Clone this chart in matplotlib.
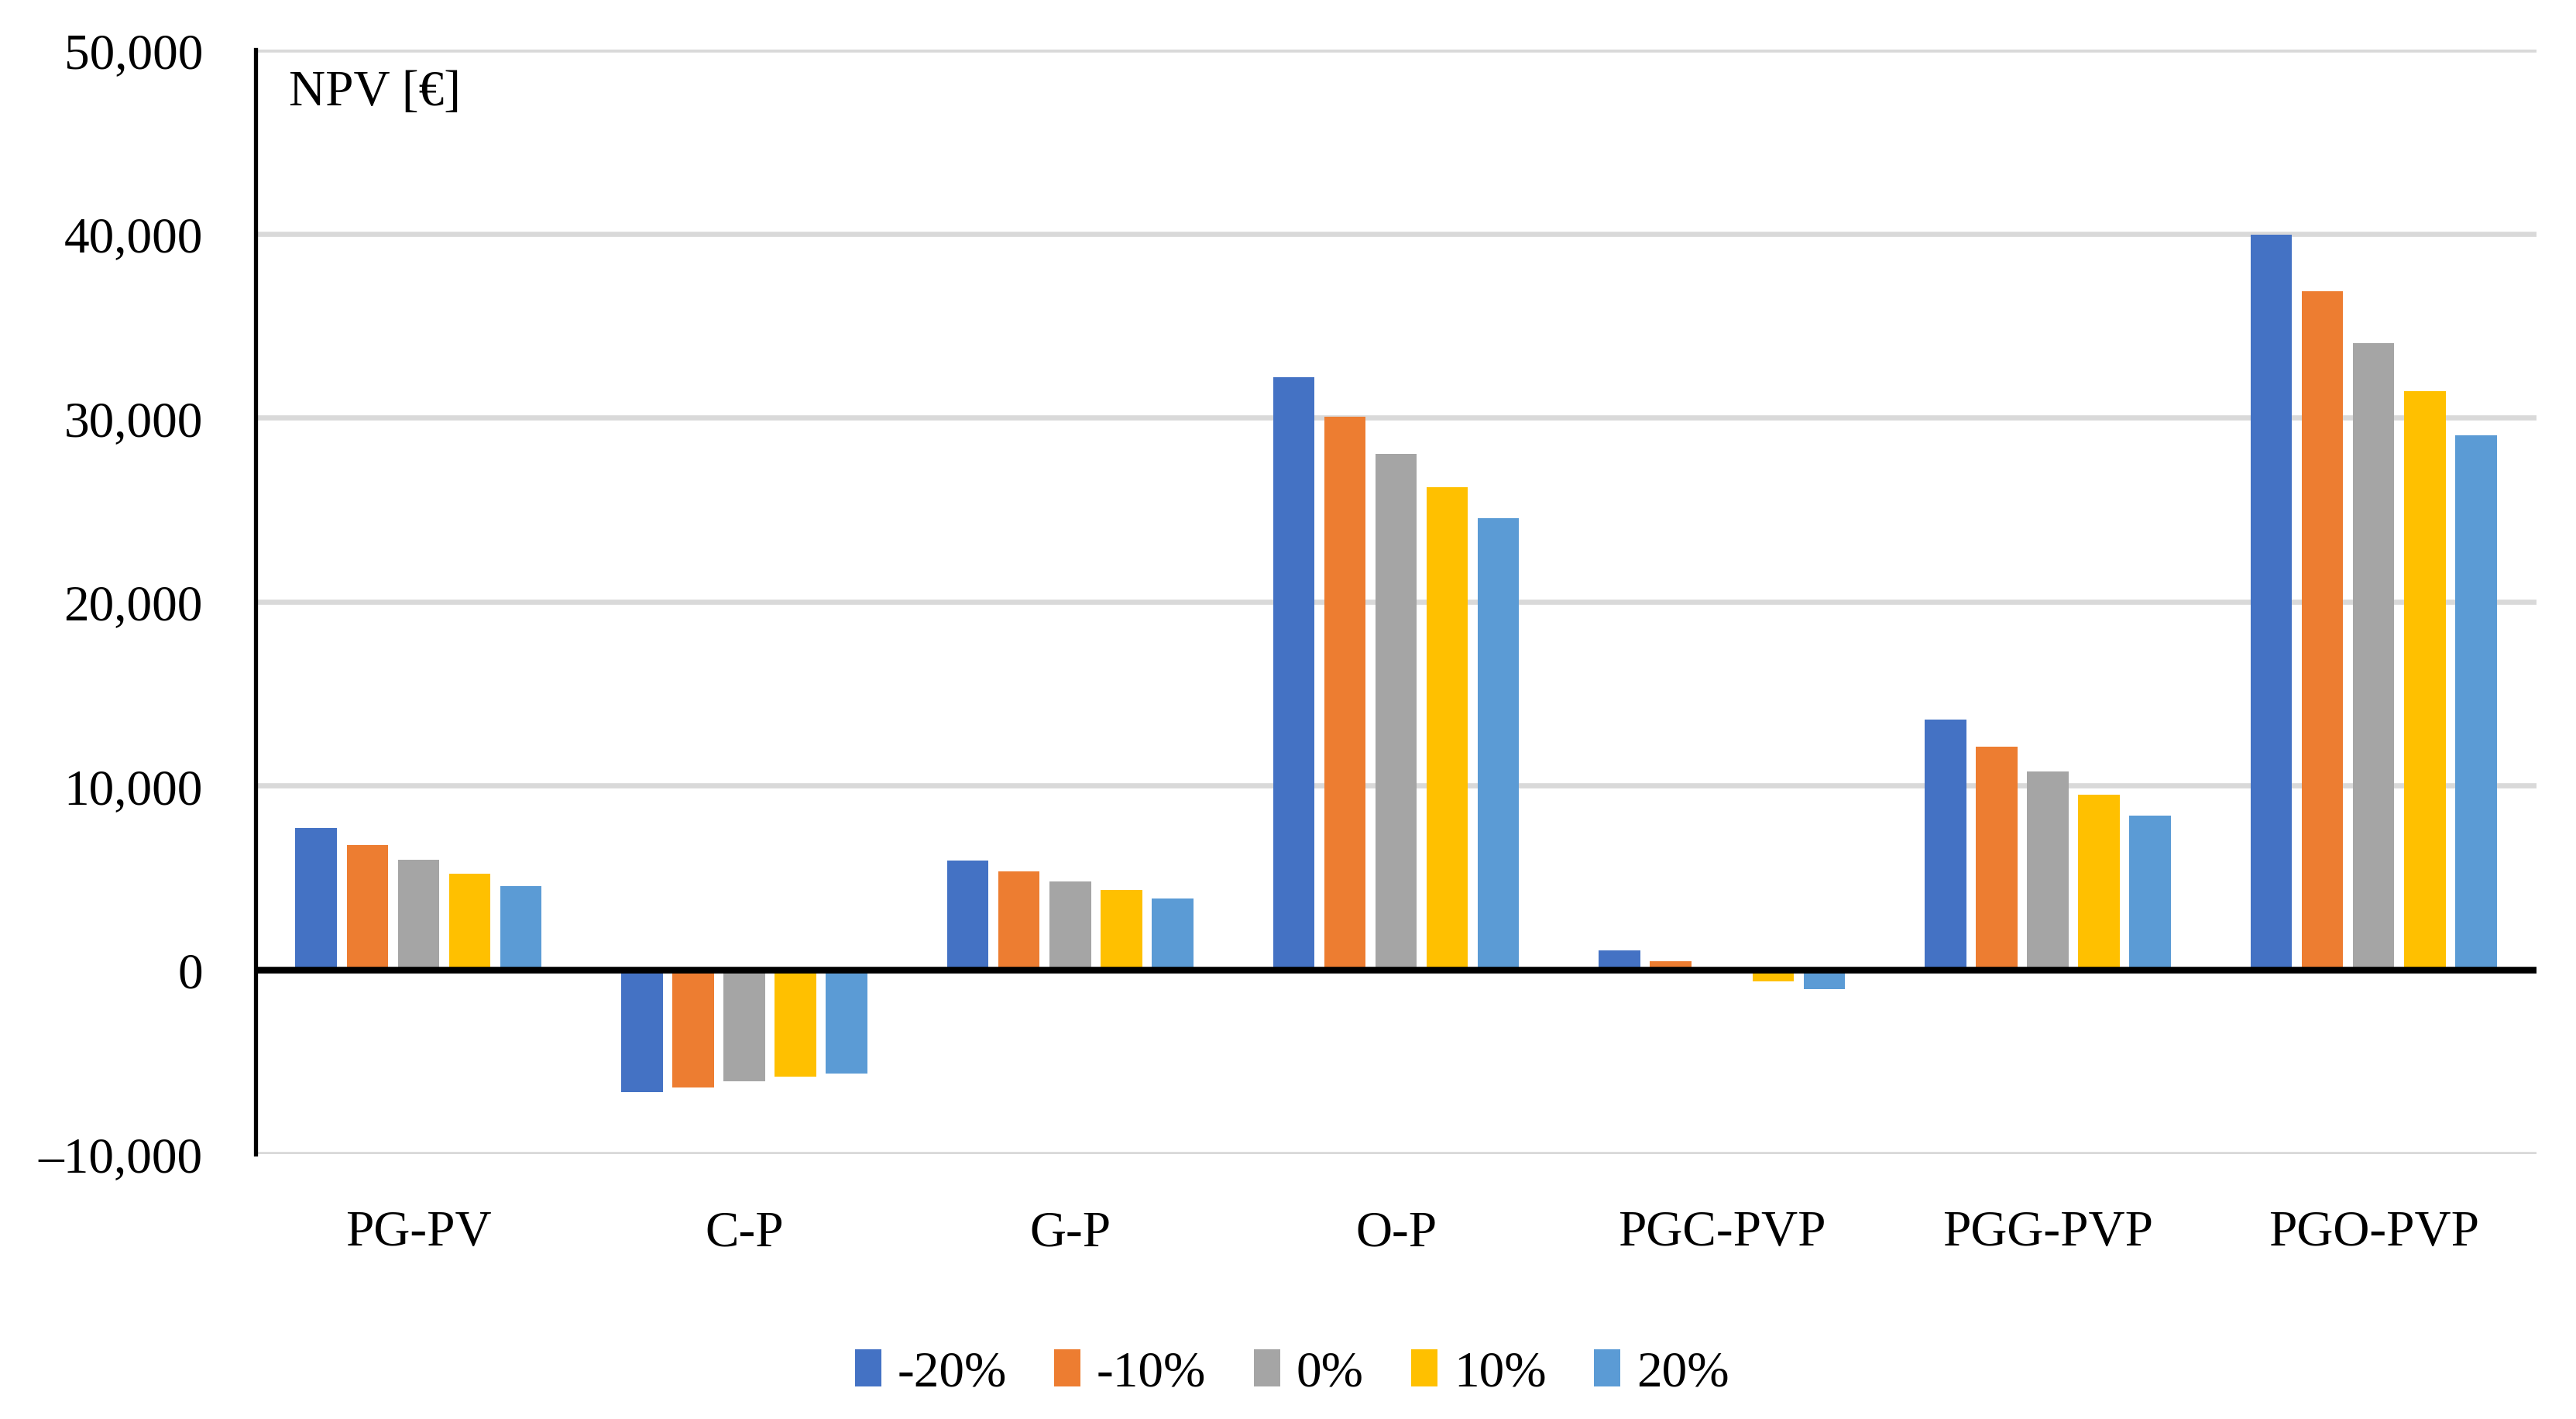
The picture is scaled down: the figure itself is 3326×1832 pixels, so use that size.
import matplotlib
matplotlib.use("Agg")
import matplotlib.pyplot as plt
from matplotlib.patches import Patch
from matplotlib.ticker import FuncFormatter
import numpy as np

# data
categories = ["PG-PV", "C-P", "G-P", "O-P", "PGC-PVP", "PGG-PVP", "PGO-PVP"]
series_names = ["-20%", "-10%", "0%", "10%", "20%"]
npv_m20 = [7700, -6670, 5930, 32220, 1050, 13600, 39930]
npv_m10 = [6770, -6380, 5340, 30070, 460, 12120, 36850]
npv_0 = [5970, -6070, 4790, 28050, -80, 10770, 34030]
npv_p10 = [5210, -5820, 4330, 26240, -620, 9510, 31460]
npv_p20 = [4540, -5620, 3860, 24550, -1040, 8370, 29060]
series = [npv_m20, npv_m10, npv_0, npv_p10, npv_p20]
colors = ["#4472C4", "#ED7D31", "#A5A5A5", "#FFC000", "#5B9BD5"]
yticks = [-10000, 0, 10000, 20000, 30000, 40000, 50000]

plt.rcParams['font.family'] = ['Liberation Serif', 'DejaVu Serif']
fs = 47

fig = plt.figure(figsize=(33.26, 18.33), dpi=100)
ax = fig.add_axes([0.0992, 0.1868, 0.8855, 0.7777])

x = np.arange(len(categories))
pitch = 0.157
width = 0.127
for i, vals in enumerate(series):
    ax.bar(x + (i - 2) * pitch, vals, width=width, color=colors[i], zorder=2)

ax.set_xlim(-0.5, len(categories) - 0.5)
ax.set_ylim(-10000, 50000)
ax.set_yticks(yticks)
ax.yaxis.set_major_formatter(FuncFormatter(lambda v, p: f"{v:,.0f}".replace("-", "\u2013")))
ax.set_xticks(x)
ax.set_xticklabels(categories)
ax.tick_params(axis='y', length=0, pad=49, labelsize=fs)
ax.tick_params(axis='x', length=0, pad=52, labelsize=fs)

# gridlines, zero line and left spine
for t in yticks:
    if t != 0:
        ax.axhline(t, color="#D9D9D9", lw=4.8, zorder=1)
ax.axhline(0, color="black", lw=6.2, zorder=3)
for s in ["top", "right", "bottom"]:
    ax.spines[s].set_visible(False)
ax.spines["left"].set_linewidth(3.8)
ax.spines["left"].set_zorder(4)

ax.text(0.0146, 0.982, "NPV [\u20ac]", transform=ax.transAxes, fontsize=fs,
        va='top', ha='left')

handles = [Patch(facecolor=c, edgecolor='none') for c in colors]
fig.legend(handles, series_names, loc='center', bbox_to_anchor=(0.5015, 0.0327),
           ncol=5, frameon=False, fontsize=fs, handlelength=0.52, handleheight=0.75,
           handletextpad=0.32, columnspacing=0.94, borderpad=0)

fig.savefig("out.png", dpi=100)
